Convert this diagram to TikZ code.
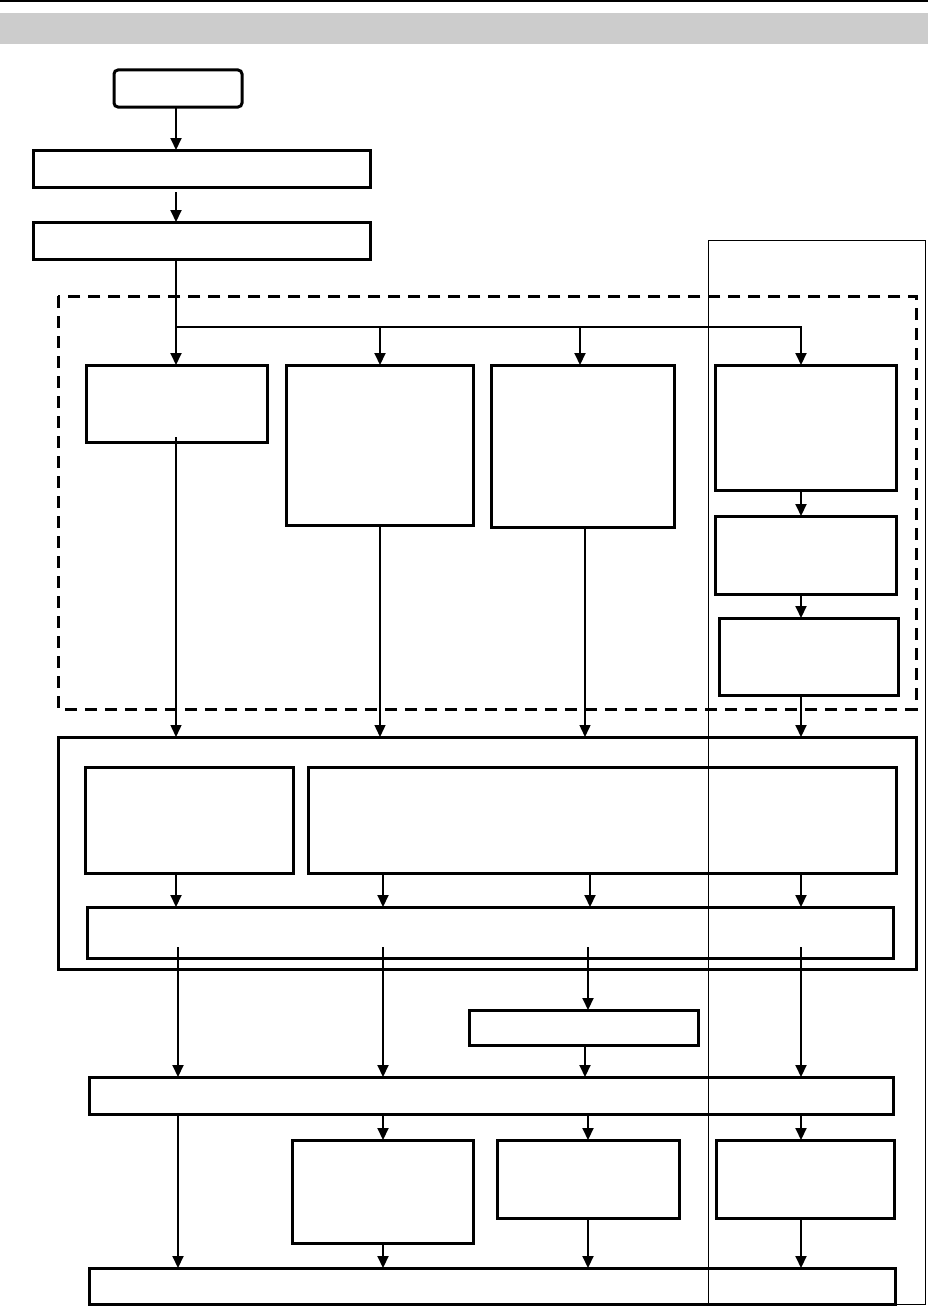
\documentclass[tikz,border=0pt]{standalone}
\usetikzlibrary{arrows.meta,calc}
\tikzset{
  bx/.style={draw, line width=3pt, inner sep=0pt, outer sep=0pt, anchor=north west},
  arr/.style={line width=2pt, -{Triangle[width=11pt,length=12pt]}},
  tarr/.style={line width=1.4pt, -{Triangle[width=11pt,length=12pt]}},
  ln/.style={line width=2pt},
}
\newcommand{\mybox}[5]{\node[bx, minimum width=#4pt-#2pt, minimum height=#5pt-#3pt] (#1) at (#2,#3) {};}
\begin{document}
\begin{tikzpicture}[x=1pt,y=-1pt]
\useasboundingbox (0,0) rectangle (928,1306);
% header
\fill[black!20] (0,13) rectangle (928,44);
\draw[line width=1.5pt] (0,1) -- (928,1);
% thin column frame
\draw[line width=1pt] (708,240) rectangle (925,1304);
% dashed group
\draw[line width=3pt, dash pattern=on 12pt off 8pt] (58,296) rectangle (916,709);
% start
\node[bx, rounded corners=4pt, minimum width=128pt, minimum height=37pt] (S) at (114,70) {};
\mybox{A}{33}{150}{370}{187}
\mybox{B}{33}{222}{370}{259}
% group boxes
\mybox{C1}{86}{365}{267}{442}
\mybox{C2}{286}{365}{473}{525}
\mybox{C3}{491}{365}{674}{527}
\mybox{C4a}{715}{365}{896}{490}
\mybox{C4b}{715}{516}{896}{594}
\mybox{C4c}{719}{618}{898}{695}
% big box
\mybox{D}{58}{737}{916}{969}
\mybox{D1}{85}{767}{293}{873}
\mybox{D2}{308}{767}{896}{873}
\mybox{D3}{87}{907}{893}{958}
\mybox{F}{469}{1010}{698}{1045}
\mybox{E}{89}{1077}{893}{1114}
\mybox{H1}{292}{1140}{473}{1243}
\mybox{H2}{497}{1140}{679}{1218}
\mybox{H3}{716}{1140}{894}{1218}
\mybox{G}{89}{1268}{895}{1304}
% connectors top
\draw[arr] (176,107) -- (176,150);
\draw[arr] (176,192) -- (B.north -| 176,0);
\coordinate (br) at (176,327);
\draw[ln] (176,259) -- (br);
\draw[arr] (br) -- (C1.north -| br);
\draw[arr] (br) -| ($(C4a.north west)+(86,0)$);
\draw[arr] (380,327) -- (C2.north -| 380,0);
\draw[arr] (580,327) -- (C3.north -| 580,0);
\draw[arr] (801,490) -- (C4b.north -| 801,0);
\draw[arr] (801,594) -- (C4c.north -| 801,0);
% into D
\draw[tarr] (176,437) -- (D.north -| 176,0);
\draw[tarr] (380,525) -- (D.north -| 380,0);
\draw[tarr] (585,527) -- (D.north -| 585,0);
\draw[arr] (801,695) -- (D.north -| 801,0);
% inside D
\draw[arr] (176,873) -- (D3.north -| 176,0);
\draw[arr] (383,873) -- (D3.north -| 383,0);
\draw[arr] (590,873) -- (D3.north -| 590,0);
\draw[arr] (801,873) -- (D3.north -| 801,0);
% from D3
\draw[arr] (178,947) -- (E.north -| 178,0);
\draw[arr] (383,947) -- (E.north -| 383,0);
\draw[arr] (588,947) -- (F.north -| 588,0);
\draw[arr] (801,947) -- (E.north -| 801,0);
\draw[arr] (585,1045) -- (E.north -| 585,0);
% from E
\draw[arr] (178,1114) -- (G.north -| 178,0);
\draw[arr] (383,1114) -- (H1.north -| 383,0);
\draw[arr] (588,1114) -- (H2.north -| 588,0);
\draw[arr] (801,1114) -- (H3.north -| 801,0);
% to G
\draw[arr] (383,1243) -- (G.north -| 383,0);
\draw[arr] (588,1218) -- (G.north -| 588,0);
\draw[arr] (801,1218) -- (G.north -| 801,0);
\end{tikzpicture}
\end{document}
